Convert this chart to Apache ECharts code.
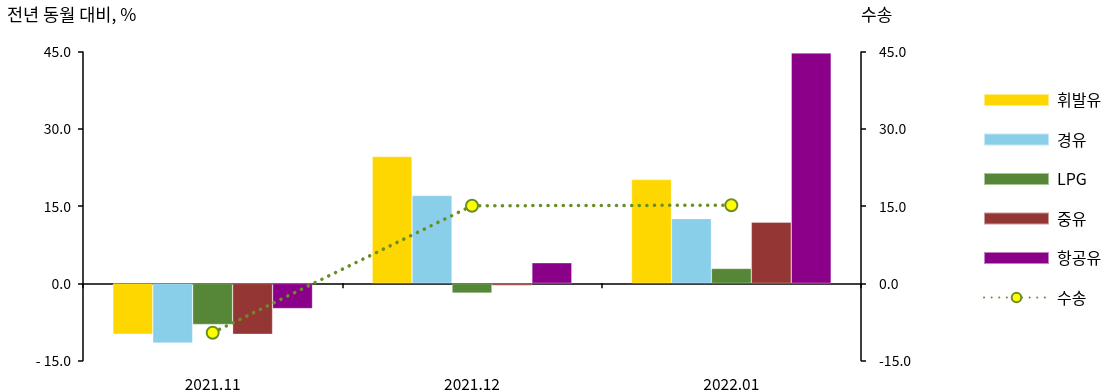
<!DOCTYPE html>
<html><head><meta charset="utf-8">
<script src="https://cdn.jsdelivr.net/npm/echarts@6/dist/echarts.min.js"></script>
<style>html,body{margin:0;padding:0;background:#fff}#c{width:1113px;height:392px}</style>
</head><body><div id="c"></div>
<script>
const categories = ['2021.11', '2021.12', '2022.01'];
const gasoline = [-9.9, 24.7, 20.2];   // 휘발유
const diesel = [-11.6, 17.1, 12.6];    // 경유
const lpg = [-8.0, -1.9, 2.9];         // LPG
const heavyOil = [-9.9, -0.4, 11.9];   // 중유
const jetFuel = [-4.9, 4.0, 44.8];     // 항공유
const transport = [-9.6, 15.1, 15.2];  // 수송
const yTicks = [-15, 0, 15, 30, 45];

const FONT = '"Noto Sans CJK KR", "Noto Sans", sans-serif';
const fmtLeft = v => v < 0 ? '- ' + Math.abs(v).toFixed(1) : v.toFixed(1);
const fmtRight = v => v.toFixed(1);
const chart = echarts.init(document.getElementById('c'));
const bar = (name, data, color) => ({
  name, type: 'bar', data, xAxisIndex: 0, yAxisIndex: 0,
  barGap: '0%', barCategoryGap: '23%',
  itemStyle: { color, borderColor: 'rgba(255,255,255,0.5)', borderWidth: 0.6 }
});
chart.setOption({
  animation: false,
  textStyle: { fontFamily: FONT },
  grid: { left: 83, right: 252, top: 52, bottom: 31 },
  graphic: [
    { type: 'text', left: 7, top: 6, style: { text: '전년 동월 대비, %', font: '17.5px ' + FONT, fill: '#000' } },
    { type: 'text', left: 861, top: 6, style: { text: '수송', font: '17px ' + FONT, fill: '#000' } }
  ],
  legend: {
    orient: 'vertical', left: 978, top: 87, itemWidth: 65, itemHeight: 12, itemGap: 23.5,
    textStyle: { fontSize: 16, color: '#000', fontFamily: FONT, padding: [0, 0, 0, 3] },
    data: [
      { name: '휘발유', icon: 'rect' }, { name: '경유', icon: 'rect' }, { name: 'LPG', icon: 'rect' },
      { name: '중유', icon: 'rect' }, { name: '항공유', icon: 'rect' }, { name: '수송' }
    ]
  },
  xAxis: [
    { type: 'category', data: categories, position: 'bottom',
      axisLine: { onZero: true, lineStyle: { color: '#000', width: 1.5 } },
      axisTick: { show: true, length: 5, lineStyle: { color: '#000', width: 1.5 } },
      axisLabel: { show: false } },
    { type: 'category', data: categories, position: 'bottom',
      axisLine: { show: false, onZero: false }, axisTick: { show: false },
      axisLabel: { color: '#000', fontSize: 15.5, margin: 16, fontFamily: FONT } }
  ],
  yAxis: [
    { type: 'value', min: -15, max: 45, interval: 15, position: 'left',
      axisLine: { show: true, lineStyle: { color: '#000', width: 1.5 } },
      axisTick: { show: true, length: 5, lineStyle: { color: '#000', width: 1.5 } },
      splitLine: { show: false },
      axisLabel: { color: '#000', fontSize: 14, margin: 12, formatter: fmtLeft, fontFamily: FONT } },
    { type: 'value', min: -15, max: 45, interval: 15, position: 'right',
      axisLine: { show: true, lineStyle: { color: '#000', width: 1.5 } },
      axisTick: { show: true, length: 5, lineStyle: { color: '#000', width: 1.5 } },
      splitLine: { show: false },
      axisLabel: { color: '#000', fontSize: 14, margin: 18, formatter: fmtRight, fontFamily: FONT } }
  ],
  series: [
    bar('휘발유', gasoline, '#FFD700'),
    bar('경유', diesel, '#89CFEA'),
    bar('LPG', lpg, '#568737'),
    bar('중유', heavyOil, '#943634'),
    bar('항공유', jetFuel, '#8B0088'),
    { name: '수송', type: 'line', data: transport, xAxisIndex: 0, yAxisIndex: 1,
      symbol: 'circle', symbolSize: 12, z: 5,
      itemStyle: { color: '#FFFF00', borderColor: '#6B8E23', borderWidth: 2 },
      lineStyle: { color: '#6B8E23', width: 3.5, type: [0.1, 7.5], cap: 'round' } }
  ]
});
</script></body></html>
